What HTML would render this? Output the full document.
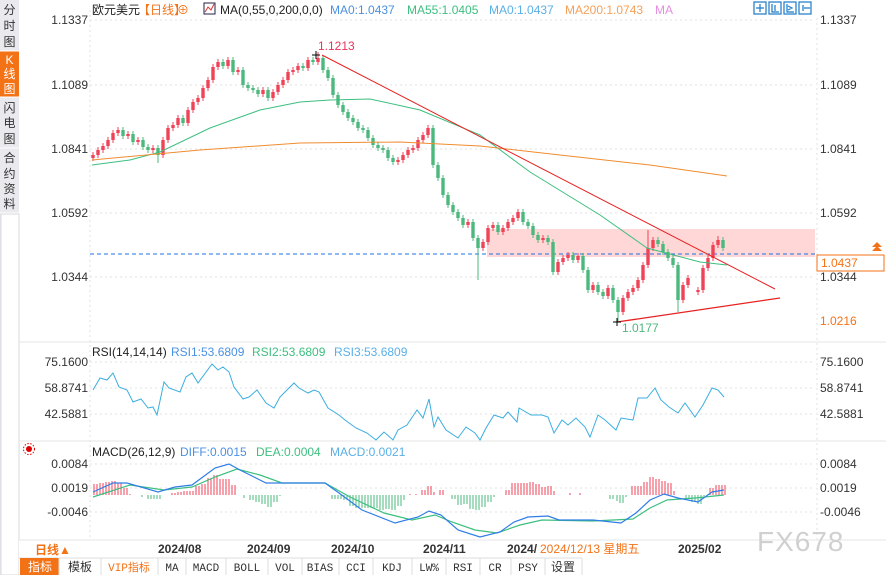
<!DOCTYPE html>
<html><head><meta charset="utf-8"><style>
html,body{margin:0;padding:0;background:#fff;width:886px;height:575px;overflow:hidden}
svg{display:block;font-family:"Liberation Sans","Noto Sans CJK SC",sans-serif}
</style></head><body>
<svg width="886" height="575" viewBox="0 0 886 575" xmlns="http://www.w3.org/2000/svg">
<rect x="0" y="0" width="19" height="575" fill="#e9e9ee"/>
<rect x="0" y="51" width="19" height="46" fill="#f47216"/>
<line x1="0" y1="51" x2="19" y2="51" stroke="#fff"/><line x1="0" y1="97" x2="19" y2="97" stroke="#fff"/>
<line x1="0" y1="148" x2="19" y2="148" stroke="#fff"/><line x1="0" y1="213" x2="19" y2="213" stroke="#fff"/>
<rect x="1" y="214" width="18" height="361" fill="#fff" stroke="#d8d8de"/>
<g font-size="12" fill="#333" text-anchor="middle">
<text x="9.5" y="14">分</text><text x="9.5" y="30">时</text><text x="9.5" y="46">图</text>
<text x="9.5" y="64" fill="#fff">K</text><text x="9.5" y="78" fill="#fff">线</text><text x="9.5" y="93" fill="#fff">图</text>
<text x="9.5" y="112">闪</text><text x="9.5" y="127">电</text><text x="9.5" y="143">图</text>
<text x="9.5" y="162">合</text><text x="9.5" y="178">约</text><text x="9.5" y="193">资</text><text x="9.5" y="208">料</text>
</g>
<g stroke="#e2e2e2" stroke-dasharray="2,3">
<line x1="90" y1="20" x2="815" y2="20"/><line x1="90" y1="85" x2="815" y2="85"/><line x1="90" y1="149" x2="815" y2="149"/>
<line x1="90" y1="213" x2="815" y2="213"/><line x1="90" y1="277" x2="815" y2="277"/>
<line x1="90" y1="362" x2="815" y2="362"/><line x1="90" y1="388" x2="815" y2="388"/><line x1="90" y1="414" x2="815" y2="414"/>
<line x1="90" y1="464" x2="815" y2="464"/><line x1="90" y1="488" x2="815" y2="488"/><line x1="90" y1="512" x2="815" y2="512"/>
<line x1="90" y1="10" x2="90" y2="540"/><line x1="817" y1="18" x2="817" y2="540"/>
</g>
<line x1="19" y1="342" x2="886" y2="342" stroke="#e6e6e6"/>
<line x1="19" y1="441" x2="886" y2="441" stroke="#e6e6e6"/>
<g font-size="12" fill="#333">
<text x="88" y="24" text-anchor="end">1.1337</text><text x="88" y="89" text-anchor="end">1.1089</text>
<text x="88" y="153" text-anchor="end">1.0841</text><text x="88" y="217" text-anchor="end">1.0592</text>
<text x="88" y="281" text-anchor="end">1.0344</text>
<text x="820" y="24">1.1337</text><text x="820" y="89">1.1089</text><text x="820" y="153">1.0841</text>
<text x="820" y="217">1.0592</text><text x="820" y="281">1.0344</text>
<text x="88" y="366" text-anchor="end">75.1600</text><text x="88" y="392" text-anchor="end">58.8741</text><text x="88" y="418" text-anchor="end">42.5881</text>
<text x="820" y="366">75.1600</text><text x="820" y="392">58.8741</text><text x="820" y="418">42.5881</text>
<text x="88" y="468" text-anchor="end">0.0084</text><text x="88" y="492" text-anchor="end">0.0019</text><text x="88" y="516" text-anchor="end">-0.0046</text>
<text x="820" y="468">0.0084</text><text x="820" y="492">0.0019</text><text x="820" y="516">-0.0046</text>
</g>
<rect x="487" y="229" width="328" height="28" fill="#ffd7d7"/>
<line x1="90" y1="254" x2="815" y2="254" stroke="#1f6fe0" stroke-dasharray="4,3"/>
<!-- candles -->
<path stroke="#ef4358" stroke-width="1" fill="none" d="M93 152V161M98 147V158M103 143V153M108 137V149M113 130V143M118 127V136M128 131V139M138 137V145M153 145V153M163 137V158M168 125V143M173 122V131M178 115V128M188 107V126M193 99V113M198 95V105M203 85V101M208 77V91M213 64V83M218 59V70M228 57V69M238 67V75M263 87V97M273 89V101M278 82V95M283 77V88M288 69V83M293 67V75M298 63V73M308 57V71M318 52V65M398 157V165M403 152V163M408 147V158M413 145V153M418 137V151M423 132V143M428 125V138M468 219V228M483 239V251M488 225V245M493 222V231M503 225V235M508 219V231M513 215V225M518 209V221M543 235V243M558 259V275M563 255V265M568 252V261M578 253V263M593 282V293M608 285V299M623 295V315M628 289V301M633 285V295M638 277V291M643 262V283M648 230V268M653 237V251M683 282V303M688 275V288M698 287V295M703 265V293M708 255V271M713 242V261M718 236V248"/>
<path stroke="#ef4358" stroke-width="3.4" fill="none" d="M93 158V155M98 155V150M103 150V146M108 146V140M113 140V133M118 133V130M128 136V134M138 142V140M153 150V148M163 155V140M168 140V128M173 128V125M178 125V118M188 123V110M193 110V102M198 102V98M203 98V88M208 88V80M213 80V67M218 67V62M228 66V60M238 72V70M263 94V90M273 98V92M278 92V85M283 85V80M288 80V72M293 72V70M298 70V66M308 68V60M318 62V58M398 162V160M403 160V155M408 155V150M413 150V148M418 148V140M423 140V135M428 135V128M468 225V222M483 248V242M488 242V228M493 228V225M503 232V228M508 228V222M513 222V218M518 218V212M543 240V238M558 272V262M563 262V258M568 258V255M578 260V256M593 290V285M608 296V288M623 312V298M628 298V292M633 292V288M638 288V280M643 280V265M648 265V248M653 248V240M683 300V285M688 285V278M698 292V290M703 290V268M708 268V258M713 258V245M718 245V240"/>
<path stroke="#4cb87e" stroke-width="1" fill="none" d="M123 127V139M133 131V145M143 137V150M148 144V153M158 145V163M183 115V126M223 59V69M233 57V75M243 67V88M248 82V91M253 85V93M258 87V97M268 87V101M303 63V71M313 57V65M323 55V73M328 67V81M333 75V98M338 92V108M343 102V115M348 109V121M353 115V125M358 119V131M363 125V133M368 127V141M373 135V148M378 142V151M383 145V153M388 147V161M393 155V165M433 125V168M438 162V181M443 175V198M448 192V208M453 202V215M458 209V221M463 215V228M473 219V241M478 235V280M498 222V235M523 209V225M528 219V229M533 223V238M538 232V243M548 235V245M553 239V275M573 252V263M583 253V273M588 267V293M598 282V295M603 289V299M613 285V303M618 297V322M658 237V247M663 241V255M668 249V261M673 255V268M678 262V312M723 237V251"/>
<path stroke="#4cb87e" stroke-width="3.4" fill="none" d="M123 130V136M133 134V142M143 140V147M148 147V150M158 148V155M183 118V123M223 62V66M233 60V72M243 70V85M248 85V88M253 88V90M258 90V94M268 90V98M303 66V68M313 60V62M323 58V70M328 70V78M333 78V95M338 95V105M343 105V112M348 112V118M353 118V122M358 122V128M363 128V130M368 130V138M373 138V145M378 145V148M383 148V150M388 150V158M393 158V162M433 128V165M438 165V178M443 178V195M448 195V205M453 205V212M458 212V218M463 218V225M473 222V238M478 238V248M498 225V232M523 212V222M528 222V226M533 226V235M538 235V240M548 238V242M553 242V272M573 255V260M583 256V270M588 270V290M598 285V292M603 292V296M613 288V300M618 300V312M658 240V244M663 244V252M668 252V258M673 258V265M678 265V300M723 240V248"/>
<polyline fill="none" stroke="#3cbf7f" points="92,165 130,160 160,152 210,128 260,110 300,102 330,100 370,99 420,110 480,135 530,172 600,215 647,248 700,262 727,265"/>
<polyline fill="none" stroke="#f08c30" points="92,160 200,150 300,143 400,142 480,146 560,155 650,165 727,176"/>
<line x1="322" y1="55" x2="775" y2="289" stroke="#e82020"/>
<line x1="617" y1="322" x2="780" y2="298" stroke="#e82020" stroke-width="1.3"/>
<text x="318" y="50" font-size="12" fill="#e8335a">1.1213</text>
<text x="622" y="332" font-size="12" fill="#4cb87e">1.0177</text>
<path d="M312 55h8M316 51v8M613 322h8M617 318v8" stroke="#000"/>
<rect x="817" y="255" width="67" height="16" fill="#fff" stroke="#f47216"/>
<text x="821" y="267" font-size="12" fill="#f47216">1.0437</text>
<text x="820" y="325" font-size="12" fill="#f47216">1.0216</text>
<path d="M872 247l5-5 5 5zM872 251l5-5 5 5z" fill="#f47216"/>
<g font-size="12">
<text x="92" y="14" fill="#222">欧元美元</text>
<text x="138" y="14" fill="#f47216">【日线】</text>
<text x="177" y="14" fill="#f47216">⊕</text>
<rect x="204" y="3" width="11" height="11" fill="#fff" stroke="#224"/>
<path d="M205 12l3-5 3 3 3-6" stroke="#d33" fill="none"/>
<text x="220" y="14" fill="#222">MA(0,55,0,200,0,0)</text>
<text x="330" y="14" fill="#4a90e2">MA0:1.0437</text>
<text x="407" y="14" fill="#3cbf7f">MA55:1.0405</text>
<text x="489" y="14" fill="#5ab0e6">MA0:1.0437</text>
<text x="565" y="14" fill="#f5a05a">MA200:1.0743</text>
<text x="655" y="14" fill="#e58de0">MA</text>
</g>
<g stroke="#1a7ac8" fill="none" stroke-width="1.2">
<rect x="754" y="2" width="12" height="12"/><rect x="769" y="2" width="12" height="12"/>
<rect x="784" y="2" width="12" height="12"/><rect x="799" y="2" width="12" height="12"/>
<path d="M760 4v8M756 8h8M772 4v8h7M775 5v6M787 4v8h7M788 6l4 2-4 2M803 5v6M804 8h6"/>
</g>
<g font-size="12">
<text x="92" y="356" fill="#222">RSI(14,14,14)</text>
<text x="171" y="356" fill="#4a90e2">RSI1:53.6809</text>
<text x="252" y="356" fill="#3cbf7f">RSI2:53.6809</text>
<text x="334" y="356" fill="#5ab0e6">RSI3:53.6809</text>
<text x="92" y="456" fill="#222">MACD(26,12,9)</text>
<text x="180" y="456" fill="#4a90e2">DIFF:0.0015</text>
<text x="256" y="456" fill="#3cbf7f">DEA:0.0004</text>
<text x="330" y="456" fill="#5ab0e6">MACD:0.0021</text>
</g>
<circle cx="29" cy="449" r="3" fill="#d00"/><circle cx="29" cy="449" r="5.5" fill="none" stroke="#d00" stroke-dasharray="1.5,1.5"/>
<polyline fill="none" stroke="#3aaee0" points="93,390 100,378 107,380 113,373 119,387 127,390 133,402 141,399 148,408 153,407 157,415 164,382 169,388 180,392 186,377 192,373 198,383 212,364 218,370 223,367 229,372 234,387 243,399 249,397 257,390 266,403 274,408 280,397 285,392 294,383 299,388 308,393 314,390 319,392 328,408 339,415 345,420 356,428 367,433 376,440 384,432 393,440 398,430 407,425 417,410 423,418 429,399 434,427 438,417 446,430 458,438 466,427 475,433 480,440 486,428 494,415 503,418 508,412 517,422 519,408 531,415 542,415 548,417 554,433 562,420 568,425 576,418 585,427 590,437 598,415 605,420 616,430 621,418 633,420 638,398 647,398 655,388 661,400 669,407 678,413 685,403 695,417 703,405 712,388 718,390 724,397"/>
<path stroke="#ef4358" fill="none" d="M94 495V484M97 495V484M100 495V483M103 495V483M106 495V482M109 495V482M112 495V481M115 495V481M118 495V483M121 495V483M124 495V488M127 495V488M130 495V494M172 495V493M175 495V493M178 495V492M181 495V492M184 495V491M187 495V491M190 495V491M193 495V491M196 495V486M199 495V486M202 495V484M205 495V484M208 495V478M211 495V478M214 495V475M217 495V475M220 495V479M223 495V479M226 495V479M229 495V479M232 495V485M235 495V485M410 495V494M416 495V494M422 495V490M425 495V490M428 495V486M431 495V486M434 495V492M440 495V490M443 495V490M506 495V490M509 495V490M512 495V483M515 495V483M518 495V483M521 495V483M524 495V483M527 495V483M530 495V482M533 495V482M536 495V484M539 495V484M542 495V487M545 495V487M548 495V486M551 495V486M554 495V491M570 495V493M580 495V493M632 495V486M635 495V486M638 495V486M641 495V486M644 495V482M647 495V482M650 495V477M653 495V477M656 495V479M659 495V479M662 495V481M665 495V481M668 495V483M671 495V483M674 495V491M710 495V488M713 495V488M716 495V485M719 495V485M722 495V485M725 495V485"/>
<path stroke="#4cb87e" fill="none" d="M142 495V497M148 495V499M151 495V499M154 495V499M157 495V499M160 495V499M244 495V498M250 495V500M253 495V500M256 495V502M259 495V502M262 495V504M265 495V504M268 495V507M271 495V507M274 495V502M277 495V502M280 495V496M332 495V499M335 495V499M338 495V499M341 495V499M344 495V500M347 495V500M350 495V506M353 495V506M356 495V508M359 495V508M362 495V508M365 495V508M368 495V508M371 495V508M374 495V508M377 495V508M380 495V510M383 495V510M386 495V509M389 495V509M392 495V510M395 495V510M398 495V506M401 495V506M404 495V500M452 495V499M455 495V499M458 495V505M461 495V505M464 495V504M467 495V504M470 495V509M473 495V509M476 495V510M479 495V510M482 495V507M485 495V507M488 495V502M491 495V502M494 495V497M610 495V499M613 495V499M617 495V501M620 495V503M623 495V503M626 495V497M686 495V499M689 495V499M692 495V502M695 495V502M698 495V504M701 495V504M704 495V496"/>
<polyline fill="none" stroke="#3cbf7f" stroke-width="1.2" points="93,497 130,485 164,490 192,487 215,477 237,469 260,475 282,483 325,483 350,497 384,513 412,520 435,515 452,522 475,530 497,533 520,525 542,520 593,521 633,519 650,508 667,500 695,498 724,495"/>
<polyline fill="none" stroke="#2f7de8" stroke-width="1.2" points="93,492 113,483 127,483 158,492 175,487 192,485 215,468 229,464 240,470 266,483 288,483 325,483 339,493 362,510 395,523 418,517 429,511 441,515 458,530 480,537 500,532 514,522 528,517 548,516 559,520 593,520 621,523 636,513 650,500 664,494 678,498 698,502 712,492 724,490"/>
<rect x="19" y="540" width="867" height="18" fill="#fff"/>
<line x1="19" y1="540" x2="886" y2="540" stroke="#e6e6e6"/>
<text x="35" y="554" font-size="12" fill="#f47216" font-weight="bold">日线▲</text>
<g font-size="12" fill="#333" font-weight="bold">
<text x="158" y="553">2024/08</text><text x="247" y="553">2024/09</text><text x="331" y="553">2024/10</text>
<text x="423" y="553">2024/11</text><text x="507" y="553">2024/</text><text x="678" y="553">2025/02</text>
</g>
<text x="540" y="553" font-size="12" fill="#f47216">2024/12/13 星期五</text>
<text x="757" y="551" font-size="28" fill="#d0d0d0" letter-spacing="1">FX678</text>
<rect x="19" y="558" width="867" height="17" fill="#fff"/>
<line x1="19" y1="558" x2="582" y2="558" stroke="#ddd"/>
<rect x="20" y="558" width="39" height="17" fill="#f47216"/>
<g font-size="11" fill="#333" text-anchor="middle" font-family="Liberation Mono,'Noto Sans CJK SC',monospace">
<text x="40" y="571" fill="#fff" font-size="12">指标</text><text x="80" y="571" font-size="12">模板</text>
<text x="129" y="571" fill="#f47216">VIP指标</text><text x="172" y="571">MA</text><text x="206" y="571">MACD</text>
<text x="247" y="571">BOLL</text><text x="285" y="571">VOL</text><text x="320" y="571">BIAS</text>
<text x="356" y="571">CCI</text><text x="392" y="571">KDJ</text><text x="429" y="571">LW%</text>
<text x="463" y="571">RSI</text><text x="495" y="571">CR</text><text x="528" y="571">PSY</text>
<text x="563" y="571" font-size="12">设置</text>
</g>
<path stroke="#ddd" d="M59 558v17M101 558v17M158 558v17M186 558v17M226 558v17M268 558v17M302 558v17M339 558v17M373 558v17M412 558v17M446 558v17M480 558v17M511 558v17M545 558v17M582 558v17"/>
</svg>
</body></html>
